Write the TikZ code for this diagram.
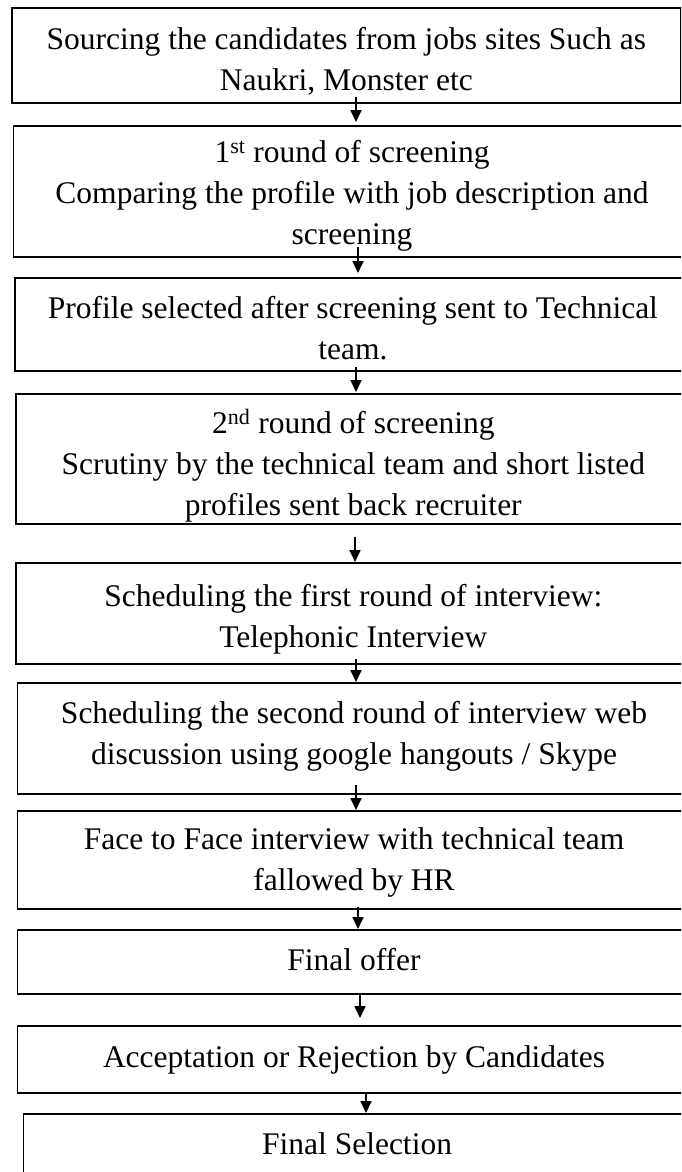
\documentclass[tikz,border=0pt]{standalone}
\usepackage{fontspec}
\setmainfont{Liberation Serif}
\usetikzlibrary{arrows.meta}
\begin{document}
\begin{tikzpicture}[x=1pt,y=-1pt,
 box/.style={draw, line width=1.7pt, rectangle, anchor=north west, inner sep=0pt},
 txt/.style={inner sep=0pt, align=center, font=\fontsize{31.5}{41}\selectfont},
 arr/.style={line width=1.7pt, -{Triangle[width=11pt,length=12pt]}}]
\path[use as bounding box] (0,0) rectangle (681,1172);
\clip (0,0) rectangle (681,1172);
\fill[white] (0,0) rectangle (681,1172);
% boxes
\node[box, minimum width=669pt, minimum height=95pt] (b1) at (11,7) {};
\node[box, minimum width=677pt, minimum height=131pt] (b2) at (12.7,125) {};
\node[box, minimum width=676pt, minimum height=93pt] (b3) at (14,277) {};
\node[box, minimum width=675pt, minimum height=130pt] (b4) at (15,393) {};
\node[box, minimum width=675pt, minimum height=101pt] (b5) at (15,562) {};
\node[box, minimum width=673pt, minimum height=111pt] (b6) at (16.7,682) {};
\node[box, minimum width=673pt, minimum height=98pt] (b7) at (16.7,810) {};
\node[box, minimum width=673pt, minimum height=64pt] (b8) at (16.7,929) {};
\node[box, minimum width=673pt, minimum height=67pt] (b9) at (16.7,1025) {};
\node[box, minimum width=667pt, minimum height=63pt] (b10) at (22.7,1113) {};
% texts
\node[txt] (t1) at ([yshift=-6pt]b1.center)
  {Sourcing the candidates from jobs sites Such as\\Naukri, Monster etc};
\node[txt] (t2) at ([yshift=-4pt]b2.center)
  {1\textsuperscript{st} round of screening\\Comparing the profile with job description and\\screening};
\node[txt] (t3) at ([yshift=-4pt]b3.center)
  {Profile selected after screening sent to Technical\\team.};
\node[txt] (t4) at ([yshift=-7pt]b4.center)
  {2\textsuperscript{nd} round of screening\\Scrutiny by the technical team and short listed\\profiles sent back recruiter};
\node[txt] (t5) at ([yshift=-6pt]b5.center)
  {Scheduling the first round of interview:\\Telephonic Interview};
\node[txt] (t6) at ([yshift=2pt]b6.center)
  {Scheduling the second round of interview web\\discussion using google hangouts / Skype};
\node[txt] (t7) at ([yshift=-3pt]b7.center)
  {Face to Face interview with technical team\\fallowed by HR};
\node[txt] (t8) at ([yshift=2pt]b8.center) {Final offer};
\node[txt] (t9) at ([yshift=-1pt]b9.center) {Acceptation or Rejection by Candidates};
\node[txt] (t10) at ([yshift=2pt]b10.center) {Final Selection};
% connectors
\coordinate (c1) at (356,0);
\coordinate (c2) at (358,0);
\coordinate (c3) at (356,0);
\coordinate (c4) at (355,0);
\coordinate (c5) at (356,0);
\coordinate (c6) at (356,0);
\coordinate (c7) at (358,0);
\coordinate (c8) at (360,0);
\coordinate (c9) at (366,0);
\draw[arr, shorten <=-7pt, shorten >=3pt] (b1.south -| c1) -- (b2.north -| c1);
\draw[arr, shorten <=-11pt, shorten >=4pt] (b2.south -| c2) -- (b3.north -| c2);
\draw[arr, shorten <=-5pt, shorten >=1pt] (b3.south -| c3) -- (b4.north -| c3);
\draw[arr, shorten <=12pt] (b4.south -| c4) -- (b5.north -| c4);
\draw[arr, shorten <=-6pt] (b5.south -| c5) -- (b6.north -| c5);
\draw[arr, shorten <=-10pt] (b6.south -| c6) -- (b7.north -| c6);
\draw[arr, shorten <=-3pt] (b7.south -| c7) -- (b8.north -| c7);
\draw[arr, shorten >=7pt] (b8.south -| c8) -- (b9.north -| c8);
\draw[arr] (b9.south -| c9) -- (b10.north -| c9);
\end{tikzpicture}
\end{document}
